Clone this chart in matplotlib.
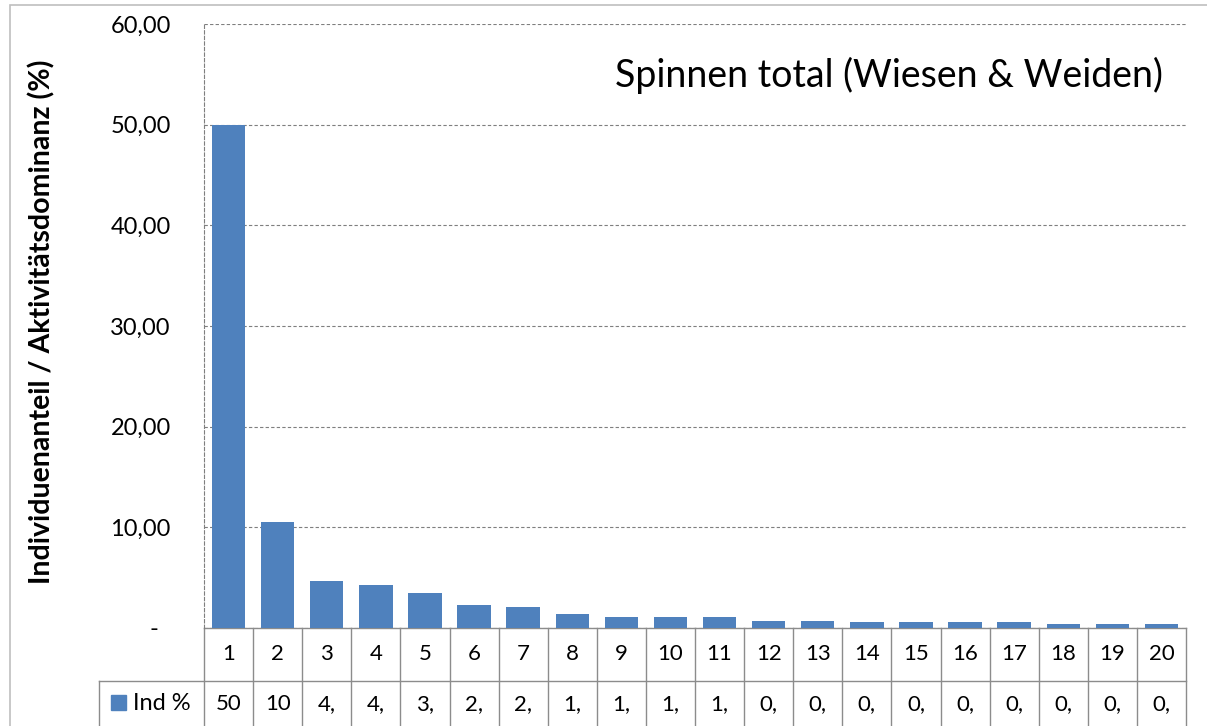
import matplotlib.pyplot as plt
from matplotlib.patches import Rectangle
from matplotlib.transforms import blended_transform_factory

# Daten
ranks = [str(i) for i in range(1, 21)]
ind_pct = [50.0, 10.5, 4.7, 4.3, 3.5, 2.3, 2.1, 1.4, 1.1, 1.07,
           1.07, 0.73, 0.73, 0.57, 0.57, 0.57, 0.57, 0.4, 0.4, 0.4]
y_ticks = [0, 10, 20, 30, 40, 50, 60]
y_tick_labels = ['-  ', '10,00', '20,00', '30,00', '40,00', '50,00', '60,00']
series_name = 'Ind %'
title = 'Spinnen total (Wiesen & Weiden)'
y_label = 'Individuenanteil / Aktivitätsdominanz (%)'

bar_color = '#4F81BD'
line_color = '#8C8C8C'
plt.rcParams['font.family'] = ['Lato', 'DejaVu Sans']

fig = plt.figure(figsize=(12.07, 7.26), dpi=100)
ax = fig.add_axes([204 / 1207, 1 - 628 / 726, 982 / 1207, 604 / 726])

# Rahmen um das ganze Diagramm
fig.patches.append(Rectangle((10 / 1207, -0.1), 1, 1.1 - 5 / 726, transform=fig.transFigure,
                             fill=False, edgecolor='#BFBFBF', linewidth=1.2))

x = range(len(ranks))
ax.bar(x, ind_pct, width=0.68, color=bar_color, zorder=3)
ax.set_xlim(-0.5, len(ranks) - 0.5)
ax.set_ylim(0, 60)
ax.set_yticks(y_ticks)
ax.set_yticklabels(y_tick_labels, fontsize=17)
ax.set_xticks([])
ax.tick_params(axis='y', length=0, pad=24)
ax.grid(axis='y', color='#7F7F7F', linestyle=(0, (3, 2)), linewidth=0.8, zorder=0)

for side in ['top', 'right', 'bottom']:
    ax.spines[side].set_visible(False)
ax.spines['left'].set_color('#7F7F7F')
ax.spines['left'].set_linestyle((0, (3, 2)))
ax.spines['left'].set_linewidth(0.8)

ax.set_ylabel(y_label, fontsize=20.5, fontweight='bold')
ax.yaxis.set_label_coords(-149 / 982, (628 - 322) / 604)
ax.text(0.9766, 0.9156, title, transform=ax.transAxes, ha='right', va='center', fontsize=27)

# Datentabelle unter dem Diagramm (x in Datenkoordinaten, y in Achsenkoordinaten)
trans = blended_transform_factory(ax.transData, ax.transAxes)
row_h = 53 / 604
label_left = (99 - 204) / 982
value_labels = [f'{v:.2f}'.replace('.', ',')[:2] for v in ind_pct]
lw = 1.0
n = len(ranks)

# horizontale Linien
ax.plot([-0.5, n - 0.5], [0, 0], transform=trans, color=line_color, lw=lw, clip_on=False)
ax.plot([label_left, 1], [-row_h, -row_h], transform=ax.transAxes, color=line_color,
        lw=lw, clip_on=False)
# vertikale Linien
for i in range(n + 1):
    ax.plot([i - 0.5, i - 0.5], [0, -2.2 * row_h], transform=trans, color=line_color,
            lw=lw, clip_on=False)
ax.plot([label_left, label_left], [-row_h, -2.2 * row_h], transform=ax.transAxes,
        color=line_color, lw=lw, clip_on=False)

for i in range(n):
    ax.text(i, -0.5 * row_h, ranks[i], transform=trans, ha='center', va='center', fontsize=16)
    ax.text(i, -(704 - 628) / 604, value_labels[i], transform=trans, ha='center',
            va='center', fontsize=16)

ax.add_patch(Rectangle(((111 - 204) / 982, -(710 - 628) / 604), 15 / 982, 15 / 604,
                       transform=ax.transAxes, color=bar_color, clip_on=False))
ax.text((133 - 204) / 982, -(704 - 628) / 604, series_name, transform=ax.transAxes,
        ha='left', va='center', fontsize=17)

fig.savefig('out.png', dpi=100)
